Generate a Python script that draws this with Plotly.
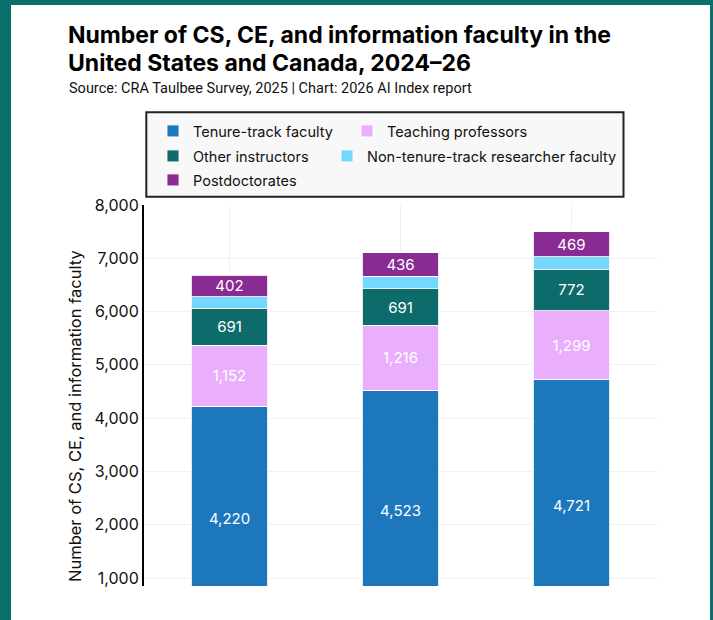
import plotly.graph_objects as go

# data
years = ["2024", "2025", "2026"]
tenure_track = [4220, 4523, 4721]
teaching_prof = [1152, 1216, 1299]
other_instr = [691, 691, 772]
non_tenure_research = [218, 235, 240]
postdocs = [402, 436, 469]
totals = [6683, 7101, 7501]

series = [
    ("Tenure-track faculty", tenure_track, "#1d77bd", True),
    ("Teaching professors", teaching_prof, "#e9affc", True),
    ("Other instructors", other_instr, "#0e6b6b", True),
    ("Non-tenure-track researcher faculty", non_tenure_research, "#73d7fe", False),
    ("Postdoctorates", postdocs, "#892b93", True),
]

# pixel layout helpers (plot area 144..657 x 205..586)
W, H = 713, 620
L, R, T, B = 144, 56, 205, 34
PW, PH = W - L - R, H - T - B


def px_x(p):
    return (p - L) / PW


def px_y(p):
    return (H - B - p) / PH


FONT = "Inter"
TEAL = "#0b6f6c"

# legend entries: (legend id, text start x px, row centre y px)
legend_pos = [
    ("legend", 193, 131),
    ("legend2", 387, 131),
    ("legend3", 193, 156),
    ("legend4", 367, 156),
    ("legend5", 193, 180),
]

fig = go.Figure()
for (name, vals, color, labelled), (lid, _, _) in zip(series, legend_pos):
    fig.add_trace(go.Bar(
        x=years, y=vals, name=name, legend=lid,
        marker=dict(color=color, line=dict(color="rgba(255,255,255,0.85)", width=1)),
        text=[f"{v:,}" for v in vals] if labelled else None,
        textposition="inside", insidetextanchor="middle", textangle=0,
        constraintext="none",
        textfont=dict(family=FONT, size=15, color="white"),
        hoverinfo="name+y",
    ))

# totals above each stack
for yr, tot in zip(years, totals):
    fig.add_annotation(x=yr, y=tot, text=f"{tot:,}", showarrow=False,
                       yshift=19, yanchor="middle",
                       font=dict(family=FONT, size=15.5, color="#111"))

legends = {}
for lid, tx, ty in legend_pos:
    legends[lid] = dict(
        x=px_x(tx - 40), y=px_y(ty), xanchor="left", yanchor="middle",
        orientation="h", bgcolor="rgba(0,0,0,0)", borderwidth=0,
        font=dict(family=FONT, size=14.5, color="#111"),
    )

fig.update_layout(
    width=W, height=H,
    margin=dict(l=L, r=R, t=T, b=B),
    paper_bgcolor=TEAL, plot_bgcolor="white",
    barmode="stack", bargap=0.55,
    font=dict(family=FONT, color="#111"),
    showlegend=True,
    **legends,
    shapes=[
        # white card inside the teal frame
        dict(type="rect", xref="paper", yref="paper", layer="below",
             x0=px_x(11), x1=px_x(710), y0=px_y(640), y1=px_y(5),
             fillcolor="white", line=dict(width=0)),
        # legend box
        dict(type="rect", xref="paper", yref="paper", layer="below",
             x0=px_x(146.3), x1=px_x(623.5), y0=px_y(196.7), y1=px_y(112.3),
             fillcolor="#f8f8f8", line=dict(color="#222", width=2)),
    ],
)

fig.add_annotation(xref="paper", yref="paper", x=px_x(66), y=px_y(35.5),
                   xanchor="left", yanchor="middle", showarrow=False,
                   text="<b>Number of CS, CE, and information faculty in the</b>",
                   font=dict(family=FONT, size=23, color="#000"))
fig.add_annotation(xref="paper", yref="paper", x=px_x(66), y=px_y(62.5),
                   xanchor="left", yanchor="middle", showarrow=False,
                   text="<b>United States and Canada, 2024–26</b>",
                   font=dict(family=FONT, size=23, color="#000"))
fig.add_annotation(xref="paper", yref="paper", x=px_x(67), y=px_y(88),
                   xanchor="left", yanchor="middle", showarrow=False,
                   text="Source: CRA Taulbee Survey, 2025 | Chart: 2026 AI Index report",
                   font=dict(family="Roboto", size=14.5, color="#111"))
fig.add_annotation(xref="paper", yref="paper", x=px_x(75), y=px_y(416),
                   xanchor="center", yanchor="middle", showarrow=False,
                   textangle=-90,
                   text="Number of CS, CE, and information faculty",
                   font=dict(family=FONT, size=16.5, color="#111"))

fig.update_xaxes(showticklabels=False, showgrid=True, gridcolor="#f1f1f1",
                 gridwidth=1, showline=False, ticks="", range=[-0.5, 2.5])
fig.update_yaxes(range=[850, 8000], tickvals=[1000, 2000, 3000, 4000, 5000, 6000, 7000, 8000],
                 tickformat=",", showgrid=True, gridcolor="#f1f1f1", gridwidth=1,
                 zeroline=False, showline=True, linecolor="#000", linewidth=2,
                 ticks="", tickfont=dict(family=FONT, size=16, color="#111"))

# drop the default page margin so the figure sits at the window's origin
fig.write_html("out.html", config={"displayModeBar": False},
               post_script="document.body.style.margin='0';")
